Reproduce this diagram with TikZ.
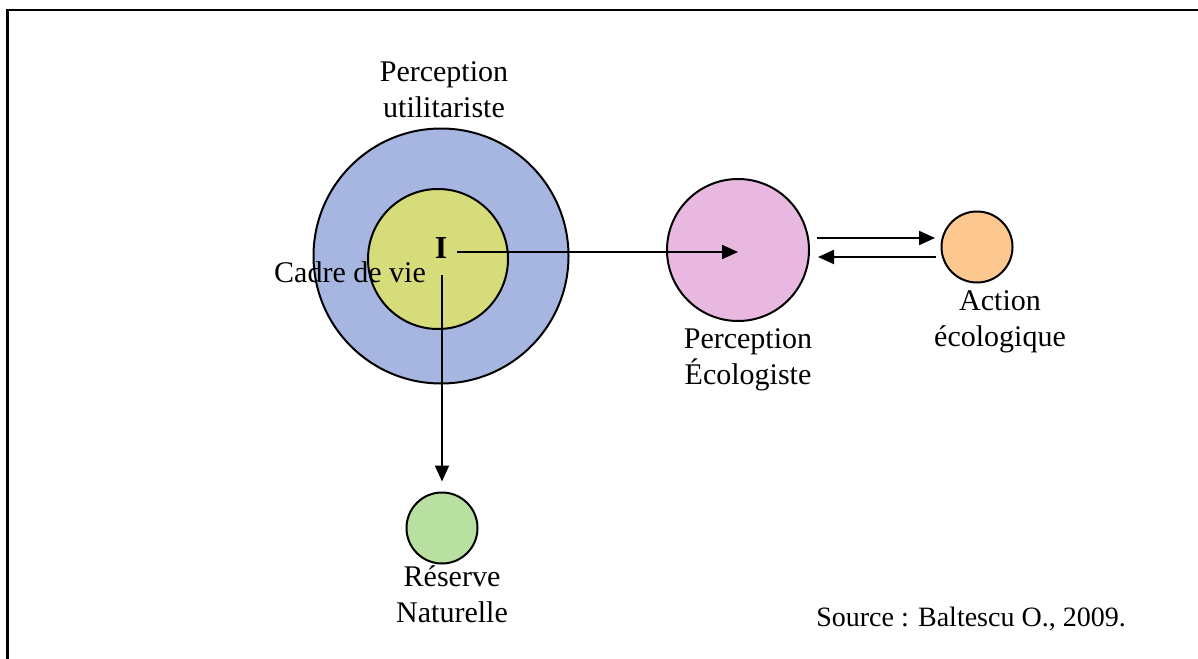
\documentclass[tikz,border=0pt]{standalone}
\usepackage{fontspec}
\setmainfont{Liberation Serif}
\usetikzlibrary{arrows.meta}
\definecolor{cblue}{RGB}{166,182,224}
\definecolor{cyellow}{RGB}{214,220,122}
\definecolor{cpink}{RGB}{232,184,224}
\definecolor{corange}{RGB}{252,200,144}
\definecolor{cgreen}{RGB}{184,224,160}
\tikzset{
  disc/.style={circle, draw=black, line width=2pt, inner sep=0pt},
  lbl/.style={font=\fontsize{30}{36}\selectfont, align=center, inner sep=0pt},
  arr/.style={line width=2pt, -{Triangle[length=16pt,width=14pt]}},
  frame/.style={line width=2.6pt}
}
\begin{document}
\begin{tikzpicture}[x=1pt,y=-1pt]
\useasboundingbox (0,0) rectangle (1198,658);
% frame
\draw[frame] (7.5,660) -- (7.5,10) -- (1200,10);
% circles
\node[disc, fill=cblue, minimum size=255pt] (pu) at (441,256) {};
\node[disc, fill=cyellow, minimum size=140pt] (cv) at (438,259) {};
\node[disc, fill=cpink, minimum size=142pt] (pe) at (738,250) {};
\node[disc, fill=corange, minimum size=71pt] (ae) at (977,247) {};
\node[disc, fill=cgreen, minimum size=71pt] (rn) at (442,528) {};
% labels
\node[lbl] (tpu) at (444,90) {Perception\\utilitariste};
\node[lbl, anchor=base] (tcv) at (350,282) {Cadre de vie};
\node[font=\fontsize{32}{36}\selectfont\bfseries, inner sep=0pt, anchor=base] (I) at (441,258) {I};
\node[lbl] (tpe) at (748,360) {Perception\\Écologiste};
\node[lbl] (tae) at (1000,322) {Action\\écologique};
\node[lbl] (trn) at (452,594) {Réserve\\Naturelle};
\node[font=\fontsize{28}{34}\selectfont, inner sep=0pt, anchor=base] (src) at (971,626) {Source : Baltescu O., 2009.};
% connectors
\coordinate (hs) at (457,252);
\coordinate (he) at (738,252);
\draw[arr] (hs) -- (he);
\coordinate (vs) at (442,275);
\draw[arr] (vs) -- ([yshift=10pt]rn.north);
\coordinate (a1s) at (817,238);
\coordinate (a1e) at (935,238);
\draw[arr] (a1s) -- (a1e);
\coordinate (a2s) at (936,257);
\coordinate (a2e) at (818,257);
\draw[arr] (a2s) -- (a2e);
\end{tikzpicture}
\end{document}
